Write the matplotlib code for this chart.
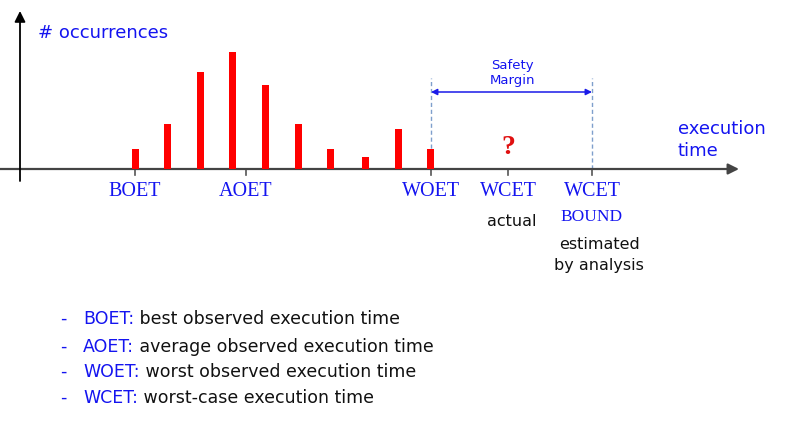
import matplotlib
matplotlib.use('Agg')
import matplotlib.pyplot as plt

plt.rcParams['font.family'] = ['DejaVu Sans']

# execution time (arbitrary units, y-axis at 0) and occurrence counts
times = [115.5, 147.5, 180, 212.5, 245.5, 278, 310, 345.5, 378, 410.5]
counts = [20, 45, 97, 117, 84, 45, 20, 12, 40, 20]

# marked points on the time axis
marks = ['BOET', 'AOET', 'WOET', 'WCET', 'WCET']
mark_x = [115, 226, 411, 488, 572]

legend_keys = ['BOET:', 'AOET:', 'WOET:', 'WCET:']
legend_text = ['best observed execution time',
               'average observed execution time',
               'worst observed execution time',
               'worst-case execution time']

BLUE = '#1414f0'

fig = plt.figure(figsize=(7.94, 4.33), dpi=100)
ax = fig.add_axes([0, 0, 1, 1])
ax.set_xlim(-20, 774)
ax.set_ylim(-264, 169)
ax.axis('off')

# axes arrows
ax.annotate('', xy=(719, 0), xytext=(-20, 0),
            arrowprops=dict(arrowstyle='-|>', color='#444444', lw=1.6,
                            mutation_scale=16, shrinkA=0, shrinkB=0))
ax.annotate('', xy=(0, 158), xytext=(0, -12),
            arrowprops=dict(arrowstyle='-|>', color='black', lw=1.3,
                            mutation_scale=16, shrinkA=0, shrinkB=0))

# histogram
ax.bar(times, counts, width=7, color='#ff0000', zorder=3)

# ticks on time axis
for x in mark_x:
    ax.plot([x, x], [0, -6], color='#555555', lw=1.2)

# safety margin
for x in (mark_x[2], mark_x[4]):
    ax.plot([x, x], [0, 91], color='#7f9fcc', lw=1, ls=(0, (3, 2)))
ax.annotate('', xy=(mark_x[4], 77), xytext=(mark_x[2], 77),
            arrowprops=dict(arrowstyle='<|-|>', color='#1a1ae8', lw=1.1,
                            mutation_scale=9, shrinkA=0, shrinkB=0))
ax.text((mark_x[2] + mark_x[4]) / 2 + 1, 96, 'Safety\nMargin', color=BLUE,
        fontsize=9.5, ha='center', va='center', linespacing=1.2)

ax.text(488, 22, '?', color='#e01010', fontsize=20, fontweight='bold',
        family='Liberation Serif', ha='center', va='center')

# labels
for name, x in zip(marks, mark_x):
    ax.text(x, -23, name, color=BLUE, fontsize=14.5, family='Liberation Serif',
            ha='center', va='center')
ax.text(572, -48, 'BOUND', color=BLUE, fontsize=12.5, family='Liberation Serif',
        ha='center', va='center')
ax.text(492, -53, 'actual', color='#111111', fontsize=11.5,
        ha='center', va='center')
ax.text(579, -86, 'estimated\nby analysis', color='#111111', fontsize=11.5,
        ha='center', va='center', linespacing=1.45)

ax.text(658, 29, 'execution\ntime', color=BLUE, fontsize=13,
        ha='left', va='center', linespacing=1.35)
ax.text(18, 136, '# occurrences', color=BLUE, fontsize=13,
        ha='left', va='center')

# definitions list
ys = [-150, -178, -203, -229]
for key, desc, y in zip(legend_keys, legend_text, ys):
    ax.text(43, y, '-', color=BLUE, fontsize=12.5, ha='center', va='center')
    t = ax.text(63, y, key, color=BLUE, fontsize=12.5, ha='left', va='center')
    ax.annotate(' ' + desc, xy=(1, 0.5), xycoords=t, color='#111111',
                fontsize=12.5, ha='left', va='center')

fig.savefig('out.png', dpi=100)
